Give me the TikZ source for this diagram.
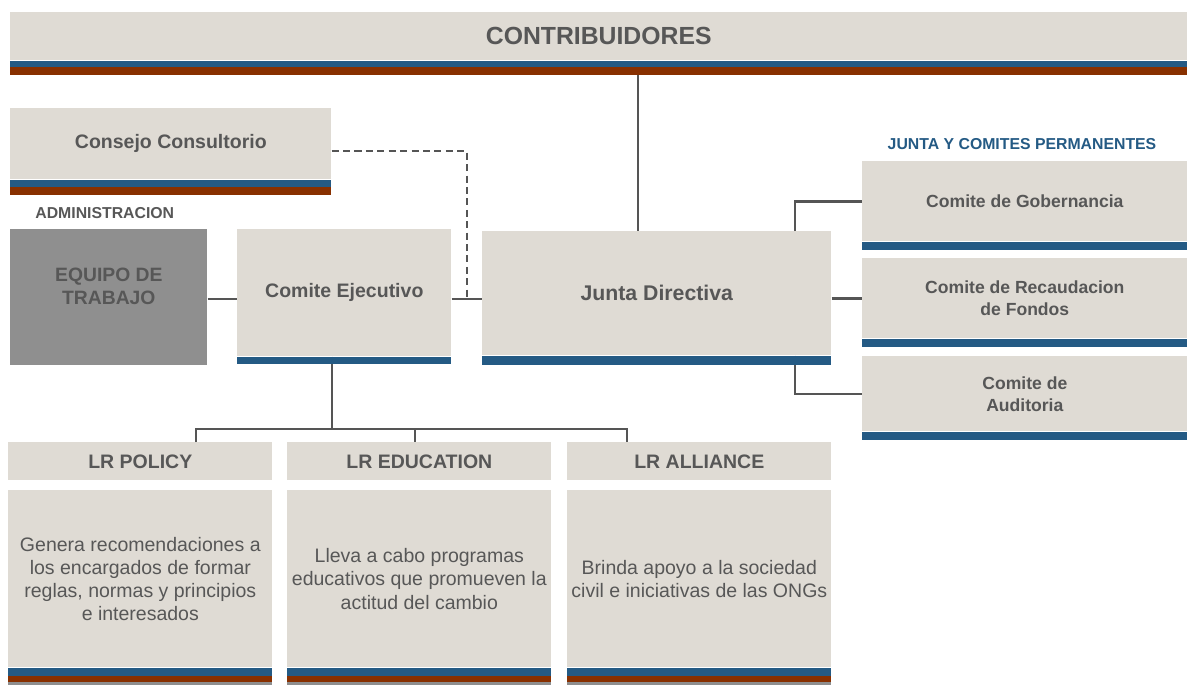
\documentclass[tikz,border=0pt]{standalone}
\usepackage{fontspec}
\setmainfont{Liberation Sans}
\usetikzlibrary{calc}

\definecolor{beige}{HTML}{DFDBD4}
\definecolor{bandblue}{HTML}{245A84}
\definecolor{bandbrown}{HTML}{883000}
\definecolor{stone}{HTML}{8F8F8F}
\definecolor{txt}{HTML}{575757}
\definecolor{linec}{HTML}{555555}

\tikzset{
  box/.style={fill=beige, inner sep=0pt, anchor=north west, align=center, text=txt,
    font=\bfseries\fontsize{11.1}{13}\selectfont},
  desc/.style={box, font=\fontsize{11.1}{13.2}\selectfont},
  conn/.style={draw=linec, line width=1.4pt},
  tag/.style={font=\bfseries\fontsize{9}{11}\selectfont, inner sep=0pt}
}

\begin{document}
\begin{tikzpicture}[x=0.02cm,y=-0.02cm]
\useasboundingbox (0,0) rectangle (1187,684);

% top level
\node[box, minimum width=23.54cm, minimum height=0.96cm, font=\bfseries\fontsize{14.1}{17}\selectfont]
  (contrib) at (10,12) {CONTRIBUIDORES};
\node[box, minimum width=6.42cm, minimum height=1.42cm] (consejo) at (10,108) {Consejo Consultorio};
\node[tag, text=txt, anchor=west] (admin) at (35,213) {ADMINISTRACION};
\node[box, fill=stone, minimum width=3.94cm, minimum height=2.72cm, font=\bfseries\fontsize{11}{13}\selectfont]
  (equipo) at (10,229) {EQUIPO DE\\TRABAJO\\[-0.6pt]};
\node[box, minimum width=4.28cm, minimum height=2.54cm] (ejec) at (237,229) {Comite Ejecutivo};
\node[box, minimum width=6.98cm, minimum height=2.48cm, font=\bfseries\fontsize{12.1}{15}\selectfont]
  (junta) at (482,231) {Junta Directiva};

% comites permanentes
\node[tag, text=bandblue] (perm) at (1022,144) {JUNTA Y COMITES PERMANENTES};
\node[box, minimum width=6.5cm, minimum height=1.6cm, font=\bfseries\fontsize{10}{12.6}\selectfont]
  (gob) at (862,161) {Comite de Gobernancia};
\node[box, minimum width=6.5cm, minimum height=1.6cm, font=\bfseries\fontsize{10}{12.6}\selectfont]
  (recaud) at (862,258) {Comite de Recaudacion\\de Fondos};
\node[box, minimum width=6.5cm, minimum height=1.5cm, font=\bfseries\fontsize{10}{12.6}\selectfont]
  (audit) at (862,356) {Comite de\\Auditoria};

% programas
\node[box, minimum width=5.28cm, minimum height=0.76cm] (policy) at (8,442) {LR POLICY};
\node[box, minimum width=5.28cm, minimum height=0.76cm] (education) at (287,442) {LR EDUCATION};
\node[box, minimum width=5.28cm, minimum height=0.76cm] (alliance) at (567,442) {LR ALLIANCE};
\node[desc, minimum width=5.28cm, minimum height=3.54cm] (policytxt) at (8,490)
  {Genera recomendaciones a\\los encargados de formar\\reglas, normas y principios\\e interesados};
\node[desc, minimum width=5.28cm, minimum height=3.54cm] (educationtxt) at (287,490)
  {Lleva a cabo programas\\educativos que promueven la\\actitud del cambio};
\node[desc, minimum width=5.28cm, minimum height=3.54cm] (alliancetxt) at (567,490)
  {Brinda apoyo a la sociedad\\civil e iniciativas de las ONGs};

% connectors
\coordinate (jtop) at (638,231);
\coordinate (row) at (0,299);
\coordinate (cdash) at (467,151);
\coordinate (side) at (795,231);
\coordinate (e1) at (332,429);
\coordinate (b1) at (196,429);
\coordinate (b2) at (415,429);
\coordinate (b3) at (627,429);

\draw[conn] (jtop |- contrib.south) -- (jtop);
\draw[conn] (equipo.east |- row) -- (ejec.west |- row);
\draw[conn] (ejec.east |- row) -- (junta.west |- row);
\draw[conn, dash pattern=on 4pt off 2.5pt] (consejo.east |- cdash) -- (cdash) -- (cdash |- row);
\draw[conn] (side) |- (gob.west);
\draw[conn] (junta.east |- recaud.west) -- (recaud.west);
\draw[conn] (side |- junta.south) |- (audit.west);
\draw[conn] (e1 |- ejec.south) -- (e1);
\draw[conn] (b1 |- policy.north) -- (b1) -- (b3) -- (b3 |- alliance.north);
\draw[conn] (b2) -- (b2 |- education.north);

% bands
\fill[bandblue] (contrib.south west) rectangle ++(1177,6);
\fill[bandbrown] ($(contrib.south west)+(0,6)$) rectangle ++(1177,8);
\fill[bandblue] (consejo.south west) rectangle ++(321,7);
\fill[bandbrown] ($(consejo.south west)+(0,7)$) rectangle ++(321,8);
\fill[bandblue] (ejec.south west) rectangle ++(214,7);
\fill[bandblue] (junta.south west) rectangle ++(349,9);
\foreach \n in {gob,recaud,audit}
  \fill[bandblue] (\n.south west) rectangle ++(325,8);
\foreach \n in {policytxt,educationtxt,alliancetxt}{
  \fill[bandblue] (\n.south west) rectangle ++(264,8);
  \fill[bandbrown] ($(\n.south west)+(0,8)$) rectangle ++(264,6);
  \fill[stone] ($(\n.south west)+(0,14)$) rectangle ++(264,3);
}
\end{tikzpicture}
\end{document}
